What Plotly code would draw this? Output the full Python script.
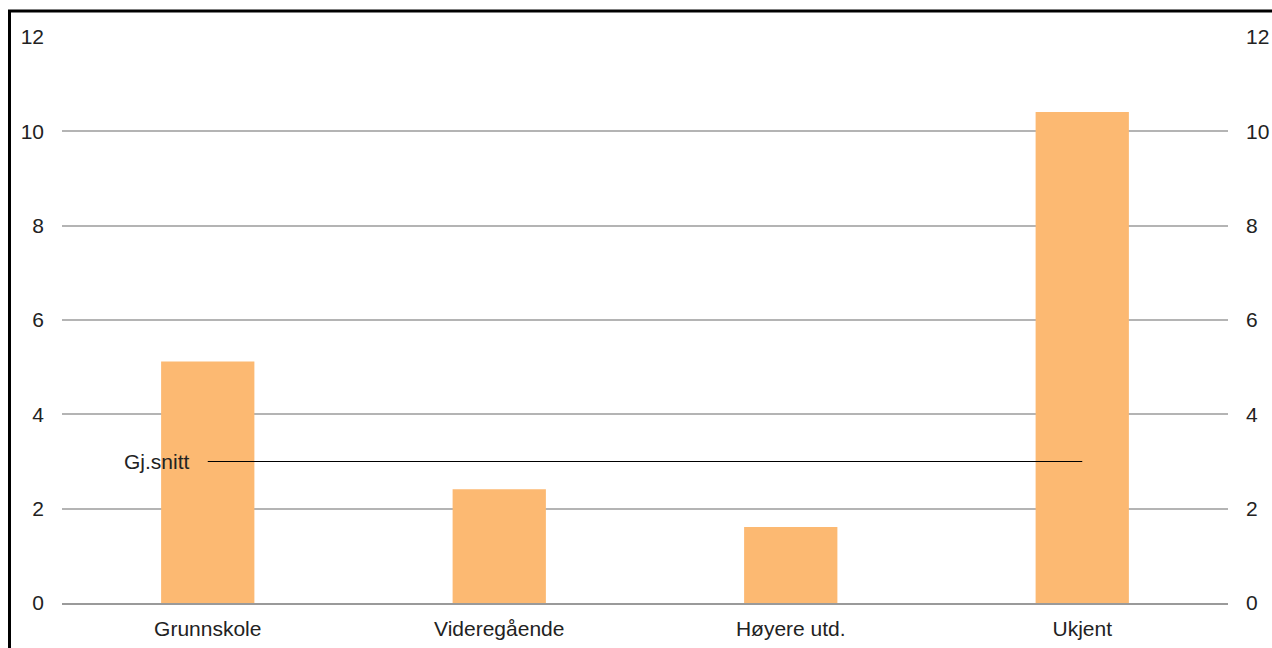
import plotly.graph_objects as go

categories = ["Grunnskole", "Videregående", "Høyere utd.", "Ukjent"]
values = [5.12, 2.41, 1.61, 10.41]
average = 3.0
avg_label = "Gj.snitt"
y_ticks = [0, 2, 4, 6, 8, 10, 12]

FONT = "Liberation Sans, Arial, sans-serif"
TXT = "#222222"
FS = 21

W, H = 1272, 648
L, R, T, B = 62, 44, 36, 45
PW, PH = W - L - R, H - T - B

fig = go.Figure()
fig.add_trace(go.Bar(x=categories, y=values, marker=dict(color="#fcb972", line=dict(width=0)),
                     showlegend=False, hoverinfo="x+y"))
fig.add_trace(go.Scatter(x=[categories[0], categories[-1]], y=[average, average], mode="lines",
                         line=dict(color="#000000", width=1.2), showlegend=False))
fig.add_trace(go.Scatter(x=[categories[0]], y=[average], yaxis="y2", mode="markers",
                         marker=dict(opacity=0), showlegend=False, hoverinfo="skip"))

fig.add_annotation(x=categories[0], y=average, xref="x", yref="y", text=avg_label,
                   showarrow=False, xanchor="right", yanchor="middle", xshift=-16,
                   font=dict(family=FONT, size=FS, color=TXT))

fig.add_shape(type="rect", xref="paper", yref="paper",
              x0=(9.5 - L) / PW, x1=(W + 40 - L) / PW,
              y0=-(B + 40) / PH, y1=(PH + T - 11) / PH,
              line=dict(color="black", width=3), fillcolor="rgba(0,0,0,0)", layer="above")

axis_common = dict(range=[0, 12.02], tickvals=y_ticks, showgrid=True, gridcolor="#b4b4b4", gridwidth=1.5,
                   zeroline=False, showline=False, ticks="", ticklabelstandoff=17, automargin=False,
                   tickfont=dict(family=FONT, size=FS, color=TXT), fixedrange=True)

fig.update_layout(
    width=W, height=H,
    margin=dict(l=L, r=R, t=T, b=B, pad=0, autoexpand=False),
    paper_bgcolor="white", plot_bgcolor="white",
    bargap=0.68,
    xaxis=dict(showgrid=False, showline=True, linecolor="#9a9a9a", linewidth=1.5, ticks="",
               automargin=False, ticklabelstandoff=6, fixedrange=True,
               tickfont=dict(family=FONT, size=FS, color=TXT)),
    yaxis=dict(**axis_common),
    yaxis2=dict(overlaying="y", side="right", **axis_common),
)
fig.update_layout(yaxis2=dict(showgrid=False))

fig.write_html("out.html", config={"displayModeBar": False},
               post_script="document.body.style.margin='0';document.body.style.overflow='hidden';")
